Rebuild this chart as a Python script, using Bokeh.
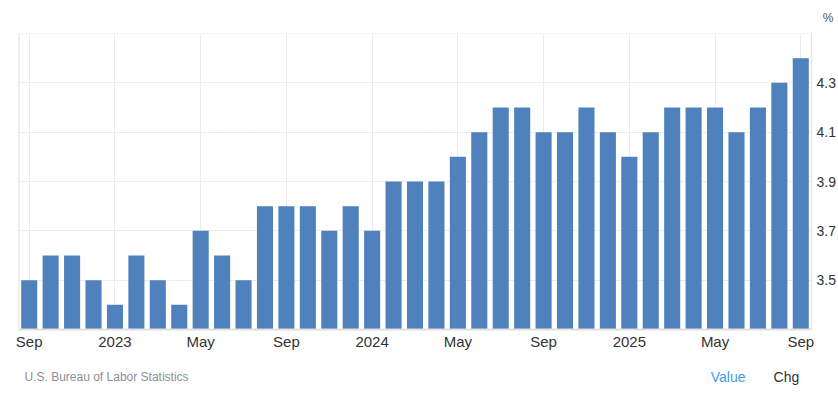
from bokeh.plotting import figure
from bokeh.models import FixedTicker, Span, Range1d, Title
from bokeh.layouts import column
from bokeh.core.properties import value
from bokeh.embed import file_html
from bokeh.resources import INLINE

months = ["Sep 2022", "Oct 2022", "Nov 2022", "Dec 2022",
          "Jan 2023", "Feb 2023", "Mar 2023", "Apr 2023", "May 2023", "Jun 2023",
          "Jul 2023", "Aug 2023", "Sep 2023", "Oct 2023", "Nov 2023", "Dec 2023",
          "Jan 2024", "Feb 2024", "Mar 2024", "Apr 2024", "May 2024", "Jun 2024",
          "Jul 2024", "Aug 2024", "Sep 2024", "Oct 2024", "Nov 2024", "Dec 2024",
          "Jan 2025", "Feb 2025", "Mar 2025", "Apr 2025", "May 2025", "Jun 2025",
          "Jul 2025", "Aug 2025", "Sep 2025"]
rate = [3.5, 3.6, 3.6, 3.5,
        3.4, 3.6, 3.5, 3.4, 3.7, 3.6, 3.5, 3.8, 3.8, 3.8, 3.7, 3.8,
        3.7, 3.9, 3.9, 3.9, 4.0, 4.1, 4.2, 4.2, 4.1, 4.1, 4.2, 4.1,
        4.0, 4.1, 4.2, 4.2, 4.2, 4.1, 4.2, 4.3, 4.4]
tick_idx = [0, 4, 8, 12, 16, 20, 24, 28, 32, 36]
tick_labels = ["Sep", "2023", "May", "Sep", "2024", "May", "Sep", "2025", "May", "Sep"]
y_ticks = [3.5, 3.7, 3.9, 4.1, 4.3, 4.5]
unit_label = "%"
source_text = "U.S. Bureau of Labor Statistics"
tab_labels = ["Value", "Chg"]

FONT = "Liberation Sans"
GRID = "#d9d9d9"
W = 838

x = list(range(len(rate)))
p = figure(width=W, height=365, output_backend="svg", toolbar_location=None,
           x_range=Range1d(-0.5, len(rate) - 0.5), y_range=Range1d(3.3, 4.5),
           min_border_left=18, min_border_top=33, min_border_bottom=36,
           min_border_right=0, y_axis_location="right")
p.outline_line_color = None

p.add_layout(Title(text=unit_label, align="right", offset=-22, standoff=14,
                   vertical_align="top",
                   text_font=FONT, text_font_size="12px", text_font_style="normal",
                   text_color="#555555"), "above")

p.vbar(x=x, top=rate, bottom=3.3, width=0.75, color="#4f81bd", line_color=None)

xa = p.xaxis[0]
xa.ticker = FixedTicker(ticks=tick_idx)
xa.major_label_overrides = {i: l for i, l in zip(tick_idx, tick_labels)}
xa.axis_line_color = "#e0e0e0"
xa.axis_line_width = 2
xa.major_tick_line_color = None
xa.minor_tick_line_color = None
xa.major_tick_out = 0
xa.major_tick_in = 0
xa.minor_tick_out = 0
xa.major_label_text_font = FONT
xa.major_label_text_font_size = "15px"
xa.major_label_text_color = "#333333"
xa.major_label_standoff = 3

ya = p.yaxis[0]
ya.ticker = FixedTicker(ticks=y_ticks)
ya.major_label_overrides = {4.5: ""}
ya.axis_line_color = "#e0e0e0"
ya.major_tick_line_color = None
ya.minor_tick_line_color = None
ya.major_tick_out = 0
ya.major_tick_in = 0
ya.minor_tick_out = 0
ya.major_label_text_font = FONT
ya.major_label_text_font_size = "14px"
ya.major_label_text_color = "#333333"
ya.major_label_standoff = 5

p.xgrid.grid_line_color = GRID
p.xgrid.grid_line_dash = "1 1"
p.ygrid.grid_line_color = GRID
p.ygrid.grid_line_dash = "1 1"

p.add_layout(Span(location=-0.5, dimension="height", line_color="#e0e0e0", line_width=2))
p.add_layout(Span(location=4.5, dimension="width", line_color=GRID, line_dash="1 1"))

# footer with source and tabs (its frame is aligned with the main plot frame)
footer = figure(width=W, height=34, output_backend="svg", toolbar_location=None,
                x_range=Range1d(18, 813), y_range=Range1d(34, 0),
                min_border_left=18, min_border_right=25, min_border_top=0,
                min_border_bottom=0, x_axis_type=None, y_axis_type=None)
footer.outline_line_color = None
footer.grid.visible = False
footer.text(x=[24], y=[11], text=[source_text], text_font=value(FONT),
            text_font_size="12px", text_color="#8a8f99",
            text_baseline="middle", text_align="left")
footer.text(x=[712, 775], y=[11, 11], text=tab_labels, text_font=value(FONT),
            text_font_size="14px", text_color=["#3f9ced", "#333333"],
            text_baseline="middle", text_align="left")

layout = column(p, footer, spacing=0)
open("out.html", "w").write(file_html(layout, INLINE))
